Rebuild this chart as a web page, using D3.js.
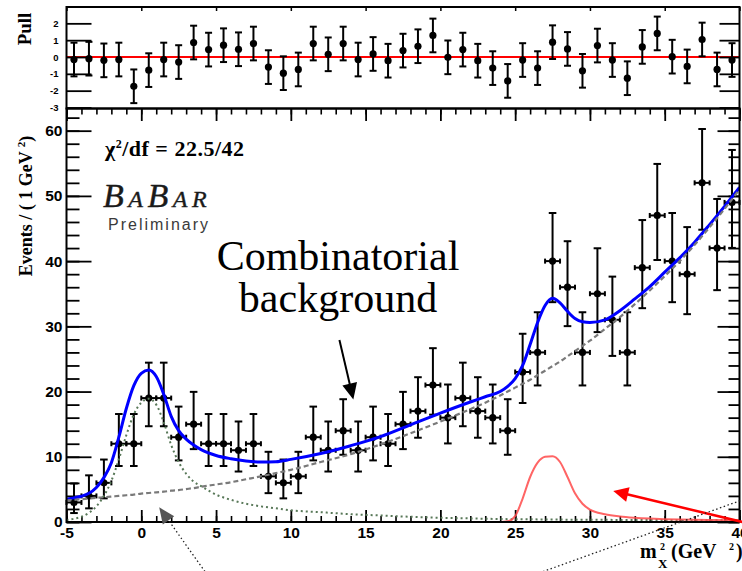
<!DOCTYPE html>
<html>
<head>
<meta charset="utf-8">
<script src="https://cdn.jsdelivr.net/npm/d3@7"></script>
<style>
  html, body { margin: 0; padding: 0; background: #fff; }
  svg { display: block; }
  .tick text { font-family: "Liberation Sans", Arial, sans-serif; font-weight: bold; }
</style>
</head>
<body>
<svg id="chart" width="742" height="571"></svg>
<script>
// ---- Data: 1 GeV^2 bins of m_X^2 from -5 to 40 ----
const binLow = -5, binWidth = 1;
const counts = [3, 4, 6, 12, 12, 19, 19, 13, 15, 12,
                12, 11, 12, 7, 6, 7, 13, 11, 14, 11,
                13, 12, 15, 17, 21, 16, 19, 17, 16, 14,
                23, 26, 40, 36, 26, 35, 31, 26, 39, 47,
                40, 38, 52, 42, 49];
const pulls = [-0.15, -0.1, -0.2, -0.15, -1.74, -0.78, -0.15, -0.3, 0.86, 0.44,
               0.7, 0.46, 0.8, -0.6, -0.96, -0.74, 0.8, 0.16, 0.8, -0.15,
               0.18, -0.22, 0.38, 0.64, 1.28, -0.02, 0.44, -0.22, -0.66, -1.42,
               -0.18, -0.66, 0.88, 0.48, -0.82, 0.68, -0.18, -1.26, 0.6, 1.4,
               0.02, -0.56, 1.04, -0.74, -0.18];

// ---- Fit curves sampled along m_X^2 ----
const fitX = [-5, -4.5, -4, -3.5, -3, -2.5, -2, -1.5, -1, -0.5, 0, 0.5, 1, 1.5, 2, 2.5, 3, 3.5, 4,
              5, 6, 7, 8, 9, 10, 12, 14, 16, 18, 20, 22, 23, 24,
              24.5, 25, 25.5, 26, 26.5, 27, 27.5, 28, 28.5, 29, 29.5, 30,
              31, 32, 33, 34, 35, 36, 37, 38, 39, 40];
const fitTotal = [3.5, 3.7, 3.95, 4.4, 5.3, 6.8, 9.1, 13.0, 17.4, 20.9, 22.8, 23.3, 22.3, 19.6, 16.2, 14.0, 12.7, 11.8, 11.1,
                  10.2, 9.7, 9.35, 9.2, 9.25, 9.6, 10.5, 11.7, 13.1, 14.9, 16.7, 18.4, 19.2, 20.0,
                  20.8, 22.0, 24.0, 27.2, 30.6, 33.2, 34.3, 33.6, 32.3, 31.2, 30.7, 30.6,
                  31.0, 32.4, 34.2, 36.1, 38.3, 40.5, 42.9, 45.6, 48.4, 51.3];
const fitCombinatorial = [3.3, 3.4, 3.5, 3.6, 3.7, 3.8, 3.9, 4.0, 4.1, 4.2, 4.35, 4.45, 4.55, 4.65, 4.8, 4.9, 5.05, 5.2, 5.4,
                          5.75, 6.1, 6.55, 7.0, 7.5, 8.0, 9.2, 10.4, 11.9, 13.6, 15.4, 17.3, 18.3, 19.4,
                          20.0, 20.6, 21.2, 21.8, 22.5, 23.2, 23.9, 24.6, 25.4, 26.2, 27.0, 27.8,
                          29.6, 31.4, 33.4, 35.5, 37.7, 40.0, 42.5, 45.2, 48.0, 51.0];
const fitPeakLow = [0.3, 0.5, 0.8, 1.4, 2.4, 4.0, 6.3, 9.6, 13.3, 16.5, 18.3, 18.9, 18.0, 15.3, 11.8, 9.2, 7.4, 6.2, 5.5,
                    4.2, 3.4, 2.8, 2.4, 2.1, 1.8, 1.5, 1.2, 1.0, 0.8, 0.65, 0.55, 0.5, 0.45,
                    0.44, 0.43, 0.42, 0.41, 0.4, 0.39, 0.38, 0.37, 0.36, 0.35, 0.35, 0.34,
                    0.33, 0.32, 0.31, 0.3, 0.29, 0.28, 0.27, 0.26, 0.25, 0.24];
const fitPeakHigh = [0, 0, 0, 0, 0, 0, 0, 0, 0, 0, 0, 0, 0, 0, 0, 0, 0, 0, 0,
                     0, 0, 0, 0, 0, 0, 0, 0, 0, 0, 0, 0, 0, 0,
                     0.1, 0.9, 3.6, 6.9, 9.1, 10.0, 10.1, 9.2, 6.9, 4.4, 2.8, 1.9,
                     1.2, 0.85, 0.65, 0.52, 0.43, 0.37, 0.33, 0.3, 0.27, 0.25];

// ---- Tick values ----
const xMajor = [-5, 0, 5, 10, 15, 20, 25, 30, 35, 40];
const xMinor = d3.range(-5, 41, 1);
const yMajor = [0, 10, 20, 30, 40, 50, 60];
const yMinor = d3.range(0, 64, 2);
const pullMajor = [-3, -2, -1, 0, 1, 2];

// ---- Geometry ----
const X0 = 66.5, X1 = 739.5;
const PULL_TOP = 7, MAIN_TOP = 108.5, MAIN_BOT = 522;

const svg = d3.select("#chart");
const x = d3.scaleLinear().domain([-5, 40]).range([X0, X1]);
const y = d3.scaleLinear().domain([0, 63.4]).range([MAIN_BOT, MAIN_TOP]);
const yp = d3.scaleLinear().domain([-3, 3]).range([107.5, 6.5]);

const bins = counts.map((n, i) => ({ c: binLow + binWidth * (i + 0.5), n, pull: pulls[i] }));

// Poisson 68% central interval (Garwood, Wilson-Hilferty form)
function poissonInterval(n) {
  const lo = n === 0 ? 0 : n * Math.pow(1 - 1 / (9 * n) - 1 / (3 * Math.sqrt(n)), 3);
  const m = n + 1;
  const hi = m * Math.pow(1 - 1 / (9 * m) + 1 / (3 * Math.sqrt(m)), 3);
  return [lo, hi];
}

function styleAxis(g, width) {
  g.select(".domain").remove();
  g.selectAll(".tick line").attr("stroke", "#000").attr("stroke-width", width);
  g.selectAll(".tick text").attr("fill", "#000");
}

// ================= Pull panel =================
const pull = svg.append("g");
pull.append("line")
  .attr("x1", X0).attr("x2", X1).attr("y1", yp(0)).attr("y2", yp(0))
  .attr("stroke", "#ff0000").attr("stroke-width", 2.2);

pull.append("g")
  .attr("transform", `translate(${X0},0)`)
  .call(d3.axisLeft(yp).tickValues(pullMajor).tickSize(-25).tickPadding(8)
    .tickFormat(d => String(d)))
  .call(g => styleAxis(g, 1.8))
  .call(g => g.selectAll(".tick text").attr("font-size", 9.5));
pull.append("g")
  .attr("transform", `translate(${X1},0)`)
  .call(d3.axisRight(yp).tickValues(pullMajor).tickSize(-20).tickFormat(""))
  .call(g => styleAxis(g, 1.8));
pull.append("g")
  .attr("transform", `translate(0,${PULL_TOP})`)
  .call(d3.axisTop(x).tickValues(xMajor).tickSize(-4).tickFormat(""))
  .call(g => styleAxis(g, 1.5));

const pullPts = pull.append("g");
bins.forEach(b => {
  const cx = x(b.c);
  const y1 = yp(b.pull + 1), y2 = yp(b.pull - 1);
  pullPts.append("line").attr("x1", cx).attr("x2", cx).attr("y1", y1).attr("y2", y2)
    .attr("stroke", "#000").attr("stroke-width", 2);
  [y1, y2].forEach(yy => pullPts.append("line")
    .attr("x1", cx - 3.5).attr("x2", cx + 3.5).attr("y1", yy).attr("y2", yy)
    .attr("stroke", "#000").attr("stroke-width", 2));
  pullPts.append("circle").attr("cx", cx).attr("cy", yp(b.pull)).attr("r", 3.6).attr("fill", "#000");
});

pull.append("rect")
  .attr("x", X0).attr("y", PULL_TOP).attr("width", X1 - X0).attr("height", MAIN_TOP - PULL_TOP)
  .attr("fill", "none").attr("stroke", "#000").attr("stroke-width", 2);

// ================= Main panel =================
const main = svg.append("g");

// axes (ticks drawn inside the frame)
main.append("g").attr("transform", `translate(0,${MAIN_BOT})`)
  .call(d3.axisBottom(x).tickValues(xMinor).tickSize(-6).tickFormat(""))
  .call(g => styleAxis(g, 1.6));
main.append("g").attr("transform", `translate(0,${MAIN_BOT})`)
  .call(d3.axisBottom(x).tickValues(xMajor).tickSize(-12).tickPadding(5).tickFormat(d => String(d)))
  .call(g => styleAxis(g, 1.8))
  .call(g => g.selectAll(".tick text").attr("font-size", 15.5));
main.append("g").attr("transform", `translate(0,${MAIN_TOP})`)
  .call(d3.axisTop(x).tickValues(xMinor).tickSize(-6).tickFormat(""))
  .call(g => styleAxis(g, 1.6));
main.append("g").attr("transform", `translate(0,${MAIN_TOP})`)
  .call(d3.axisTop(x).tickValues(xMajor).tickSize(-12.5).tickFormat(""))
  .call(g => styleAxis(g, 1.8));
main.append("g").attr("transform", `translate(${X0},0)`)
  .call(d3.axisLeft(y).tickValues(yMinor).tickSize(-13).tickFormat(""))
  .call(g => styleAxis(g, 1.8));
main.append("g").attr("transform", `translate(${X0},0)`)
  .call(d3.axisLeft(y).tickValues(yMajor).tickSize(-25).tickPadding(4).tickFormat(d => String(d)))
  .call(g => styleAxis(g, 1.8))
  .call(g => g.selectAll(".tick text").attr("font-size", 15.5));
main.append("g").attr("transform", `translate(${X1},0)`)
  .call(d3.axisRight(y).tickValues(yMinor).tickSize(-11).tickFormat(""))
  .call(g => styleAxis(g, 1.8));
main.append("g").attr("transform", `translate(${X1},0)`)
  .call(d3.axisRight(y).tickValues(yMajor).tickSize(-22).tickFormat(""))
  .call(g => styleAxis(g, 1.8));

// data points with Poisson error bars
const pts = main.append("g");
bins.forEach(b => {
  const [lo, hi] = poissonInterval(b.n);
  const cx = x(b.c), cy = y(b.n);
  const yl = y(lo), yh = y(hi);
  const xl = x(b.c - binWidth / 2), xr = x(b.c + binWidth / 2);
  const seg = (a1, b1, a2, b2) => pts.append("line")
    .attr("x1", a1).attr("y1", b1).attr("x2", a2).attr("y2", b2)
    .attr("stroke", "#000").attr("stroke-width", 2);
  seg(cx, yh, cx, yl);
  seg(cx - 3.8, yh, cx + 3.8, yh);
  seg(cx - 3.8, yl, cx + 3.8, yl);
  seg(xl, cy, xr, cy);
  seg(xl, cy - 2.5, xl, cy + 2.5);
  seg(xr, cy - 2.5, xr, cy + 2.5);
  pts.append("circle").attr("cx", cx).attr("cy", cy).attr("r", 3.6).attr("fill", "#000");
});

// fit curves
svg.append("clipPath").attr("id", "plotClip")
  .append("rect").attr("x", X0).attr("y", MAIN_TOP).attr("width", X1 - X0).attr("height", MAIN_BOT - MAIN_TOP + 2);
const curves = main.append("g").attr("clip-path", "url(#plotClip)");
const lineOf = vals => d3.line()
  .x((d, i) => x(fitX[i])).y(d => y(d))
  .curve(d3.curveMonotoneX)(vals);

curves.append("path").attr("d", lineOf(fitTotal))
  .attr("fill", "none").attr("stroke", "#0000ff").attr("stroke-width", 3);
curves.append("path").attr("d", lineOf(fitCombinatorial))
  .attr("fill", "none").attr("stroke", "#7a7a7a").attr("stroke-width", 2.2)
  .attr("stroke-dasharray", "5,3");
curves.append("path").attr("d", lineOf(fitPeakLow))
  .attr("fill", "none").attr("stroke", "#587858").attr("stroke-width", 2)
  .attr("stroke-dasharray", "2,3");
curves.append("path").attr("d", lineOf(fitPeakHigh))
  .attr("fill", "none").attr("stroke", "#ff4a4a").attr("stroke-width", 2).attr("opacity", 0.85);

main.append("rect")
  .attr("x", X0).attr("y", MAIN_TOP).attr("width", X1 - X0).attr("height", MAIN_BOT - MAIN_TOP)
  .attr("fill", "none").attr("stroke", "#000").attr("stroke-width", 2);

// ================= Text =================
const serif = "'Liberation Serif', 'Times New Roman', serif";
const sans = "'Liberation Sans', Arial, sans-serif";

// axis titles
svg.append("text")
  .attr("transform", "translate(31,29) rotate(-90)")
  .attr("text-anchor", "middle")
  .attr("font-family", serif).attr("font-weight", "bold").attr("font-size", 19)
  .text("Pull");

const yTitle = svg.append("text")
  .attr("transform", "translate(32,206) rotate(-90)")
  .attr("text-anchor", "middle")
  .attr("font-family", serif).attr("font-weight", "bold").attr("font-size", 18);
yTitle.append("tspan").text("Events / ( 1 GeV ");
yTitle.append("tspan").attr("dy", -7).attr("font-size", 11).text("2");
yTitle.append("tspan").attr("dy", 7).text(")");

const xTitle = svg.append("g")
  .attr("font-family", serif).attr("font-weight", "bold").attr("fill", "#000");
xTitle.append("text").attr("x", 640).attr("y", 558).attr("font-size", 20).text("m");
xTitle.append("text").attr("x", 660).attr("y", 550).attr("font-size", 10).text("2");
xTitle.append("text").attr("x", 658).attr("y", 568).attr("font-size", 13).text("X");
xTitle.append("text").attr("x", 671).attr("y", 558).attr("font-size", 20).text("(GeV");
xTitle.append("text").attr("x", 729).attr("y", 550).attr("font-size", 10).text("2");
xTitle.append("text").attr("x", 736).attr("y", 558).attr("font-size", 20).text(")");

// fit quality and experiment labels
const chi = svg.append("text")
  .attr("x", 105).attr("y", 156)
  .attr("font-family", serif).attr("font-weight", "bold").attr("font-size", 22)
  .attr("letter-spacing", 0.5);
chi.append("tspan").text("χ");
chi.append("tspan").attr("dy", -8).attr("font-size", 12).text("2");
chi.append("tspan").attr("dy", 8).text("/df = 22.5/42");

const babar = svg.append("text")
  .attr("x", 103).attr("y", 207)
  .attr("font-family", serif).attr("font-style", "italic")
  .attr("fill", "#1a1a1a").attr("stroke", "#1a1a1a").attr("stroke-width", 0.4)
  .attr("letter-spacing", 4.5);
babar.append("tspan").attr("font-size", 34).text("B");
babar.append("tspan").attr("font-size", 24).text("A");
babar.append("tspan").attr("font-size", 34).text("B");
babar.append("tspan").attr("font-size", 24).text("AR");

svg.append("text")
  .attr("x", 108).attr("y", 230)
  .attr("font-family", sans).attr("font-size", 16).attr("fill", "#3a3a3a")
  .attr("letter-spacing", 2)
  .text("Preliminary");

// annotation
svg.append("text").attr("x", 338).attr("y", 270).attr("text-anchor", "middle")
  .attr("font-family", serif).attr("font-size", 42).text("Combinatorial");
svg.append("text").attr("x", 338).attr("y", 312).attr("text-anchor", "middle")
  .attr("font-family", serif).attr("font-size", 42).text("background");

// arrows, anchored in plot coordinates
function arrow(from, to, opts) {
  const [x1, y1] = [x(from[0]), y(from[1])];
  const [x2, y2] = [x(to[0]), y(to[1])];
  const dx = x2 - x1, dy = y2 - y1, L = Math.hypot(dx, dy);
  const ux = dx / L, uy = dy / L;
  const bx = x2 - ux * opts.head, by = y2 - uy * opts.head;
  svg.append("line").attr("x1", x1).attr("y1", y1).attr("x2", bx + ux * 2).attr("y2", by + uy * 2)
    .attr("stroke", opts.color).attr("stroke-width", opts.width)
    .attr("stroke-dasharray", opts.dash || null);
  if (opts.half) {
    const pts = [[x2, y2], [bx - uy * opts.half, by + ux * opts.half], [bx + uy * opts.half, by - ux * opts.half]];
    svg.append("polygon").attr("points", pts.map(p => p.join(",")).join(" "))
      .attr("fill", opts.headColor || opts.color);
  }
}
arrow([13.25, 27.9], [14.18, 18.8], { color: "#000", width: 2, head: 16, half: 7.5 });
arrow([40.2, 0], [31.56, 4.75], { color: "#ff0000", width: 2.5, head: 15, half: 7.5 });
arrow([4.26, -7.6], [1.2, 2.25], { color: "#222", width: 1.3, dash: "1.5,2.5", head: 16, half: 7, headColor: "#555" });
arrow([26.86, -7.6], [40.2, 3.4], { color: "#222", width: 1.3, dash: "1.5,2.5", head: 0 });
</script>
</body>
</html>
